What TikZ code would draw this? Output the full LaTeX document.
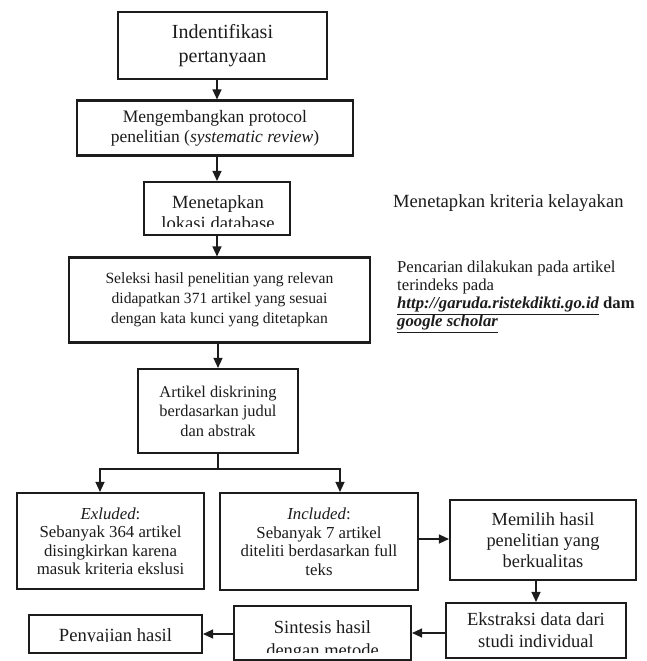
\documentclass[tikz,border=0pt]{standalone}
\usepackage{fontspec}
\setmainfont{Liberation Serif}
\usetikzlibrary{arrows.meta}
\definecolor{ink}{HTML}{1C1C1C}
\newcommand\fsz[2]{\fontsize{#1}{#2}\selectfont}
\begin{document}
\begin{tikzpicture}[x=1pt,y=-1pt,
  box/.style={draw=ink, line width=2.1pt, inner sep=0pt, align=center, text=ink},
  txt/.style={text=ink, inner sep=0pt},
  arr/.style={draw=ink, line width=1.3pt, -{Triangle[length=10pt,width=9pt]}},
  conn/.style={draw=ink, line width=1.3pt},
]
\useasboundingbox[fill=white] (0,0) rectangle (647,661);

% boxes
\node[box, line width=2.8pt, minimum width=209pt, minimum height=67pt, font=\fsz{20}{24}] (b1) at (222.5,45.5) {Indentifikasi\\pertanyaan};
\node[box, minimum width=276pt, minimum height=55pt, font=\fsz{17.5}{20}] (b2) at (215,128) {Mengembangkan protocol\\penelitian (\textit{systematic review})};
\node[box, minimum width=146pt, minimum height=53pt] (b3) at (217,208.5) {};
\node[box, minimum width=301pt, minimum height=85pt, font=\fsz{15.6}{20}] (b4) at (219.5,300) {Seleksi hasil penelitian yang relevan\\didapatkan 371 artikel yang sesuai\\dengan kata kunci yang ditetapkan};
\node[box, minimum width=160pt, minimum height=84pt, font=\fsz{16.4}{19.5}] (b5) at (218,411) {Artikel diskrining\\berdasarkan judul\\dan abstrak};
\node[box, minimum width=187pt, minimum height=96pt, font=\fsz{16.8}{18.5}] (b6) at (110.5,541) {\textit{Exluded}:\\Sebanyak 364 artikel\\disingkirkan karena\\masuk kriteria ekslusi};
\node[box, minimum width=198pt, minimum height=97pt, font=\fsz{16.8}{18.5}] (b7) at (319,541.5) {\textit{Included}:\\Sebanyak 7 artikel\\diteliti berdasarkan full\\teks};
\node[box, minimum width=186pt, minimum height=80pt, font=\fsz{18.4}{21}] (b8) at (543,540) {Memilih hasil\\penelitian yang\\berkualitas};
\node[box, minimum width=180pt, minimum height=55pt, font=\fsz{18.5}{22}] (b9) at (536,630.5) {Ekstraksi data dari\\studi individual};
\node[box, minimum width=177pt, minimum height=54pt] (b10) at (322.5,633) {};
\node[box, minimum width=173pt, minimum height=38pt] (b11) at (115.5,634) {};

% clipped texts
\begin{scope}
  \clip (146,184) rectangle (288,226.5);
  \node[txt, anchor=base, font=\fsz{18.6}{21.5}] (t3a) at (218,208) {Menetapkan};
  \node[txt, anchor=base, font=\fsz{18.6}{21.5}] (t3b) at (218,229.5) {lokasi database};
\end{scope}
\begin{scope}
  \clip (236,608) rectangle (409,652);
  \node[txt, anchor=base, font=\fsz{18.5}{22}] (t10a) at (322.5,633) {Sintesis hasil};
  \node[txt, anchor=base, font=\fsz{18.5}{22}] (t10b) at (322.5,656) {dengan metode};
\end{scope}
\begin{scope}
  \clip (31,617) rectangle (200,641.5);
  \node[txt, anchor=base, font=\fsz{18.6}{22}] (t11) at (115.5,641) {Penyajian hasil};
\end{scope}

% side texts
\node[txt, anchor=west, font=\fsz{18.6}{22}] (crit) at (393,203) {Menetapkan kriteria kelayakan};
\node[txt, anchor=north west, align=left, font=\fsz{16.7}{18}] (search) at (397,261) {Pencarian dilakukan pada artikel\\terindeks pada\\\textbf{\textit{\underline{http://garuda.ristekdikti.go.id}} dam}\\\textbf{\textit{\underline{google scholar}}}};

% connectors
\draw[arr] (b1.south -| b3.center) -- (b2.north -| b3.center);
\draw[arr] (b2.south -| b3.center) -- (b3.north);
\draw[arr] (b3.south) -- (b4.north -| b3.center);
\draw[arr] (b4.south -| b5.center) -- (b5.north);
\coordinate (sl) at (100,469);
\coordinate (sr) at (340,469);
\draw[conn] (b5.south) -- (b5.south |- sl);
\draw[arr] (b5.south |- sl) -- (sl) -- (sl |- b6.north);
\draw[arr] (b5.south |- sr) -- (sr) -- (sr |- b7.north);
\draw[arr] (b7.east |- 0,539) -- (b8.west |- 0,539);
\draw[arr] (b8.south -| b9.center) -- (b9.north);
\draw[arr] (b9.west |- b10.center) -- (b10.east);
\draw[arr] (b10.west |- b11.center) -- (b11.east);
\end{tikzpicture}
\end{document}
